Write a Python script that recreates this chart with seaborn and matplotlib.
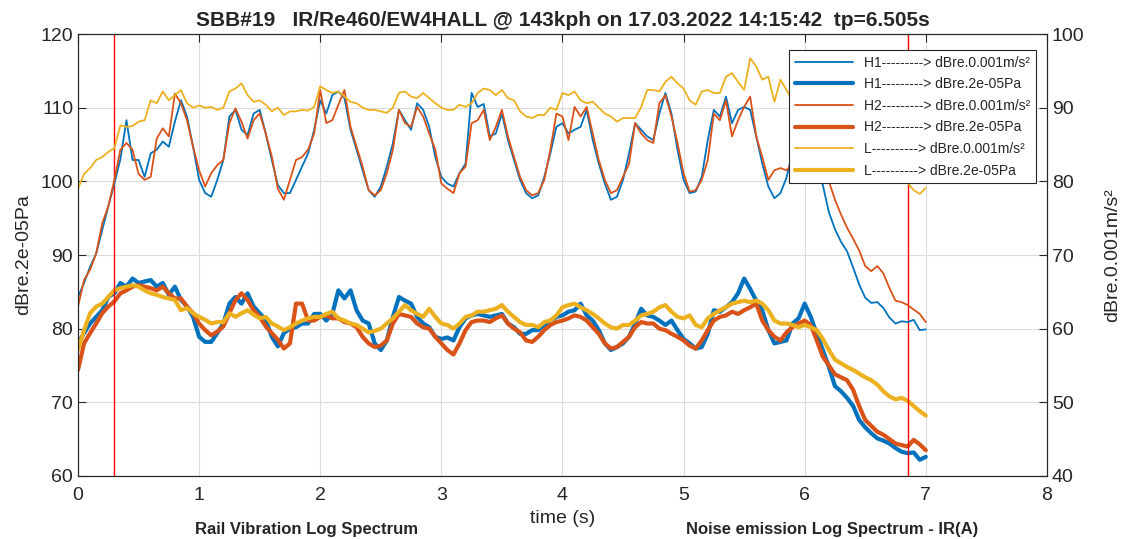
import numpy as np
import matplotlib
matplotlib.use("Agg")
import matplotlib.pyplot as plt
import seaborn as sns

# sampling step of the read-off curves (s)
step = 0.05

# rail vibration (thin lines, right axis, dB re 0.001 m/s²)
h1_vib = [64.3, 66.2, 68.4, 70.2, 73.4, 76.6, 79.7, 83.0, 88.3, 82.9, 82.9, 80.6, 83.8, 84.3, 85.4, 84.7,
          88.1, 91.0, 88.8, 84.7, 80.2, 78.4, 77.9, 80.2, 82.9, 88.8, 89.7, 87.0, 86.3, 89.2, 89.7, 86.5,
          82.9, 79.5, 78.4, 78.4, 80.2, 82.0, 83.8, 87.0, 91.0, 89.2, 91.7, 92.2, 91.3, 87.0, 84.3, 81.5,
          78.8, 77.9, 79.3, 82.0, 85.2, 89.7, 88.3, 87.0, 90.6, 89.7, 87.4, 83.3, 80.6, 79.7, 79.3, 81.1,
          82.4, 92.0, 90.1, 90.5, 86.1, 86.5, 89.2, 85.6, 82.9, 80.2, 78.4, 77.7, 78.1, 80.6, 83.8, 87.4,
          87.9, 86.5, 87.0, 87.4, 89.7, 85.6, 82.4, 79.7, 77.5, 77.9, 80.2, 83.8, 87.9, 87.0, 86.1, 85.6,
          89.2, 92.0, 89.2, 84.3, 80.2, 78.4, 78.6, 80.6, 85.6, 89.7, 88.8, 91.5, 87.9, 89.7, 90.1, 89.7,
          86.1, 82.4, 79.3, 77.7, 78.4, 80.5, 84.0, 86.0, 86.5, 84.0, 81.5, 79.5, 75.8, 73.5, 71.8, 70.5,
          68.3, 66.0, 64.2, 63.5, 63.6, 62.8, 61.5, 60.7, 61.0, 60.9, 61.2, 59.8, 59.9]
h2_vib = [63.0, 66.6, 68.0, 70.2, 74.3, 76.6, 80.2, 84.3, 85.2, 84.3, 81.0, 80.2, 80.6, 85.8, 87.2, 86.1,
          91.9, 90.6, 88.3, 84.7, 81.5, 79.3, 81.1, 82.2, 82.9, 87.9, 89.9, 88.1, 85.8, 88.3, 89.2, 86.5,
          83.4, 79.0, 77.5, 80.2, 82.9, 83.3, 84.3, 86.5, 92.4, 87.9, 88.3, 90.4, 92.4, 87.4, 84.7, 82.0,
          78.8, 78.1, 78.8, 81.1, 84.3, 89.7, 87.9, 87.4, 90.1, 88.8, 86.5, 84.3, 79.7, 79.0, 78.4, 81.1,
          82.0, 87.9, 88.3, 89.7, 85.6, 87.4, 89.7, 86.1, 83.3, 80.6, 78.8, 78.1, 78.4, 80.2, 84.3, 89.2,
          88.8, 85.6, 90.1, 88.8, 90.1, 86.5, 82.9, 80.2, 78.4, 78.8, 80.6, 82.4, 87.9, 86.5, 85.6, 85.2,
          90.6, 91.7, 88.8, 85.2, 81.1, 78.6, 78.8, 80.2, 82.9, 89.2, 88.3, 91.0, 86.1, 88.3, 90.1, 91.5,
          86.1, 83.3, 80.2, 81.5, 81.8, 81.5, 82.5, 84.0, 85.0, 83.0, 81.5, 80.8, 80.0, 77.5, 75.5, 73.7,
          72.2, 70.6, 68.5, 67.8, 68.5, 67.5, 65.5, 63.8, 63.6, 63.2, 62.6, 62.0, 60.9]
l_vib = [79.0, 81.0, 81.8, 82.9, 83.3, 84.0, 84.5, 87.6, 87.4, 87.5, 88.1, 88.3, 91.0, 90.6, 92.2, 91.0,
         91.7, 92.4, 90.6, 90.0, 90.3, 90.0, 90.1, 89.7, 90.0, 92.2, 92.6, 93.3, 91.7, 90.8, 91.0, 90.4,
         89.5, 90.0, 89.0, 89.5, 89.5, 89.7, 89.6, 90.1, 92.9, 92.4, 92.0, 92.2, 91.5, 90.8, 90.6, 90.0,
         89.7, 89.7, 89.5, 89.3, 90.0, 92.0, 92.2, 91.5, 91.3, 92.0, 91.3, 90.6, 90.0, 89.7, 89.7, 90.4,
         90.1, 90.6, 92.0, 92.6, 92.4, 91.7, 92.4, 91.3, 91.0, 89.5, 88.8, 88.6, 89.0, 89.0, 90.0, 89.7,
         92.0, 91.7, 92.2, 91.0, 90.6, 90.8, 90.0, 89.2, 88.8, 88.1, 88.6, 88.6, 88.6, 90.1, 92.4, 92.4,
         92.2, 93.5, 94.2, 93.3, 92.6, 91.0, 90.4, 92.2, 92.4, 92.0, 92.0, 94.2, 94.7, 93.5, 92.4, 96.7,
         95.6, 93.8, 94.2, 90.8, 93.8, 92.4, 91.0, 90.0, 89.0, 88.0, 87.0, 86.0, 85.0, 84.5, 84.0, 83.0,
         82.5, 82.0, 81.5, 81.5, 81.0, 81.0, 80.5, 80.2, 80.0, 79.8, 78.8, 78.3, 79.1]

# noise emission (thick lines, left axis, dB re 2e-05 Pa)
h1_noise = [78.0, 79.4, 80.7, 81.6, 82.5, 84.3, 84.8, 86.2, 85.7, 86.8, 86.2, 86.4, 86.6, 85.7, 86.2, 84.6,
            85.7, 83.9, 83.0, 81.6, 78.9, 78.2, 78.2, 79.4, 80.7, 83.4, 84.3, 83.4, 84.8, 83.0, 82.1, 81.2,
            78.9, 77.6, 79.4, 80.0, 80.2, 80.7, 80.7, 82.0, 82.0, 81.1, 82.0, 85.2, 84.1, 85.2, 82.5, 81.1,
            80.7, 78.0, 77.1, 78.4, 81.6, 84.3, 83.8, 83.4, 81.6, 80.7, 80.2, 78.9, 78.6, 78.8, 78.4, 80.2,
            81.4, 81.8, 82.0, 81.8, 81.6, 81.8, 82.0, 80.7, 80.2, 79.3, 79.3, 79.8, 79.8, 80.5, 81.1, 81.6,
            81.8, 82.3, 82.5, 83.4, 81.8, 81.1, 79.8, 78.0, 77.1, 77.5, 78.0, 78.9, 80.7, 82.7, 81.8, 81.6,
            81.1, 80.5, 81.1, 79.8, 78.6, 78.0, 77.3, 77.5, 79.3, 82.5, 82.3, 82.9, 83.6, 84.8, 86.8, 85.4,
            83.8, 82.5, 79.8, 78.0, 78.2, 78.4, 80.7, 81.4, 83.4, 81.6, 79.3, 77.1, 74.8, 72.2, 71.5, 70.6,
            69.5, 67.6, 66.6, 65.8, 65.1, 64.8, 64.4, 63.8, 63.3, 63.1, 63.2, 62.2, 62.6]
h2_noise = [74.4, 78.0, 79.4, 80.7, 82.1, 83.0, 83.7, 84.8, 85.2, 85.7, 85.9, 85.7, 85.5, 85.2, 85.7, 84.8,
            84.1, 84.1, 83.0, 82.1, 80.7, 79.8, 79.1, 79.6, 80.3, 82.1, 83.9, 84.8, 83.9, 82.5, 81.6, 80.3,
            79.4, 78.5, 77.3, 78.0, 83.4, 83.4, 81.1, 81.1, 81.6, 81.8, 81.4, 81.4, 80.9, 80.7, 80.2, 78.9,
            78.0, 77.5, 77.7, 78.4, 80.7, 82.0, 81.8, 81.6, 80.7, 80.2, 80.0, 78.9, 78.0, 77.1, 76.5, 78.0,
            79.8, 80.9, 81.1, 81.1, 80.9, 81.4, 81.8, 80.7, 80.0, 79.5, 78.4, 78.2, 78.9, 79.8, 80.5, 80.9,
            81.1, 81.4, 81.8, 81.6, 81.1, 80.2, 79.3, 78.0, 77.3, 77.5, 78.2, 78.9, 80.2, 80.9, 80.7, 80.7,
            80.0, 79.8, 79.3, 78.9, 78.4, 77.7, 77.3, 78.4, 79.8, 81.1, 81.6, 81.8, 82.3, 82.0, 82.5, 82.9,
            83.4, 81.1, 79.8, 78.9, 78.4, 79.5, 80.2, 80.7, 81.1, 80.5, 78.4, 76.2, 75.0, 73.8, 73.4, 73.0,
            71.7, 69.5, 67.6, 66.8, 66.0, 65.6, 65.0, 64.4, 64.2, 64.0, 64.9, 64.3, 63.5]
l_noise = [77.1, 79.8, 82.1, 83.0, 83.4, 84.3, 85.2, 85.5, 85.7, 85.9, 85.7, 85.2, 84.8, 84.6, 84.3, 84.1,
           83.9, 82.5, 82.8, 82.1, 81.6, 81.2, 80.7, 80.9, 80.9, 82.1, 81.6, 82.1, 82.5, 81.9, 81.4, 81.6,
           80.7, 80.3, 79.8, 80.2, 80.7, 81.1, 81.4, 81.6, 81.6, 82.0, 82.3, 81.4, 81.1, 80.7, 80.5, 80.0,
           79.5, 79.7, 80.0, 80.7, 81.4, 82.3, 83.2, 82.5, 82.0, 81.6, 82.7, 81.6, 80.7, 80.5, 80.0, 80.7,
           81.6, 81.8, 82.3, 82.3, 82.5, 82.7, 83.2, 82.3, 81.6, 80.9, 80.5, 80.5, 80.2, 80.9, 81.1, 81.8,
           82.9, 83.2, 83.4, 82.9, 82.5, 82.0, 81.4, 80.7, 80.2, 80.0, 80.5, 80.5, 81.1, 81.8, 82.0, 82.3,
           82.9, 83.2, 82.3, 81.6, 81.4, 81.8, 80.5, 80.2, 81.4, 82.0, 82.5, 82.9, 83.4, 83.6, 83.8, 83.6,
           83.8, 83.4, 82.5, 81.1, 80.7, 80.7, 80.5, 80.2, 80.5, 80.2, 79.8, 78.6, 77.1, 75.8, 75.3, 74.8,
           74.4, 73.9, 73.4, 73.0, 72.4, 71.5, 70.8, 70.4, 70.6, 70.2, 69.5, 68.8, 68.2]

markers_t = [0.3, 6.85]  # red cursor lines

blue, orange, yellow = "#0072BD", "#D95319", "#EDB120"
vib_label = "dBre.0.001m/s²"
noise_label = "dBre.2e-05Pa"


def tt(vals):
    return np.arange(len(vals)) * step


sns.set_style("white")
plt.rcParams["font.family"] = ["Liberation Sans", "DejaVu Sans"]

fig = plt.figure(figsize=(11.24, 5.39), dpi=100)
ax = fig.add_axes([0.0694, 0.1169, 0.862, 0.82])
ax2 = ax.twinx()

for vals, c, name in [(h1_vib, blue, "H1---------> "), (h2_vib, orange, "H2---------> "),
                      (l_vib, yellow, "L----------> ")]:
    sns.lineplot(x=tt(vals), y=vals, ax=ax2, color=c, linewidth=1.3, label=name + vib_label)
for vals, c, name in [(h1_noise, blue, "H1---------> "), (h2_noise, orange, "H2---------> "),
                      (l_noise, yellow, "L----------> ")]:
    sns.lineplot(x=tt(vals), y=vals, ax=ax, color=c, linewidth=3.0, label=name + noise_label)

for m in markers_t:
    ax.axvline(m, color="red", linewidth=1.0)

ax.set_xlim(0, 8)
ax.set_ylim(60, 120)
ax2.set_ylim(40, 100)
ax.set_xticks(range(0, 9))
ax.set_yticks(range(60, 121, 10))
ax2.set_yticks(range(40, 101, 10))
ax.grid(True, color="#dcdcdc", linewidth=0.8)
ax.set_axisbelow(True)

for a in (ax, ax2):
    for s in a.spines.values():
        s.set_color("#262626")
        s.set_linewidth(0.8)
ax.tick_params(axis="both", direction="in", labelsize=14, length=6, top=True, colors="#262626")
ax.tick_params(axis="x", pad=8)
ax2.tick_params(axis="y", direction="in", labelsize=14, length=6, colors="#262626")

ax.set_xlabel("time (s)", fontsize=14, labelpad=4)
ax.set_ylabel(noise_label, fontsize=14, labelpad=6)
ax2.set_ylabel(vib_label, fontsize=14, labelpad=14)
ax.set_title("SBB#19   IR/Re460/EW4HALL @ 143kph on 17.03.2022 14:15:42  tp=6.505s",
             fontsize=15, fontweight="bold", pad=6)

h_v, l_v = ax2.get_legend_handles_labels()
h_n, l_n = ax.get_legend_handles_labels()
ax.get_legend().remove()
handles, labels = [], []
for i in range(3):
    handles += [h_v[i], h_n[i]]
    labels += [l_v[i], l_n[i]]
leg = ax2.legend(handles, labels, loc="upper right", bbox_to_anchor=(0.9886, 0.9638),
                 borderaxespad=0, fontsize=10, handlelength=4.2, labelspacing=0.55,
                 fancybox=False, framealpha=1, edgecolor="#262626")
leg.get_frame().set_linewidth(0.8)

# titles of the panels below (only their upper part shows in the reference)
fig.text(0.273, 0.003, "Rail Vibration Log Spectrum", fontsize=12, fontweight="bold",
         ha="center", va="bottom")
fig.text(0.74, 0.003, "Noise emission Log Spectrum - IR(A)", fontsize=12, fontweight="bold",
         ha="center", va="bottom")

fig.savefig("out.png", dpi=100)
